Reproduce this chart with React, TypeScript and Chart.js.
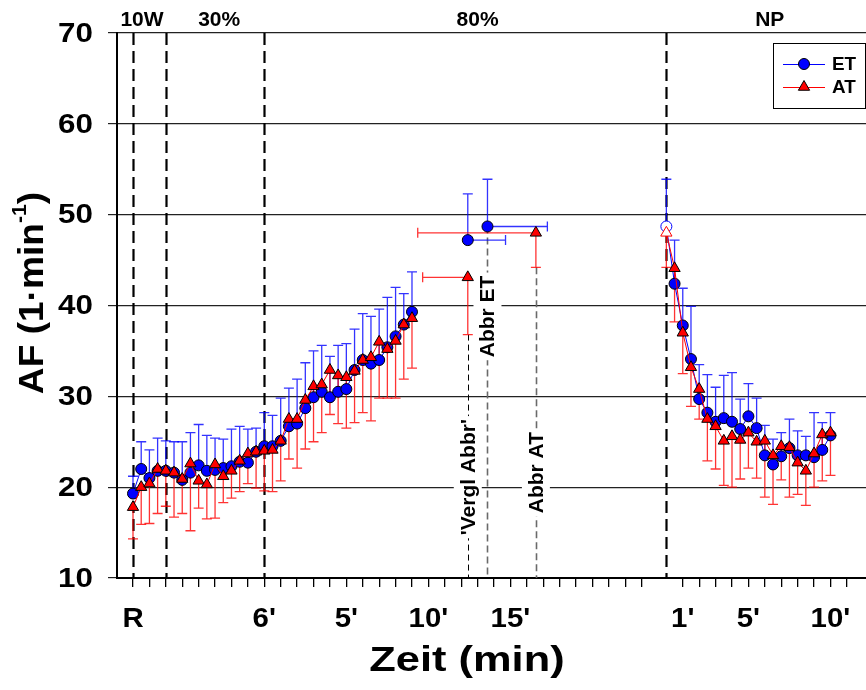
import React, { useEffect, useRef } from 'react';
import { Chart, registerables } from 'chart.js';

Chart.register(...registerables);

const FONT = '"Liberation Sans", Arial, Helvetica, sans-serif';

// ---- Phase 1: rest, 10 W, 30 %, 80 % (one point per 30 s step) ----
const phase1Start = 0;
const etPhase1 = [19.3, 22.0, 21.0, 21.8, 21.8, 21.6, 20.8, 21.6, 22.4, 21.8, 21.9, 22.1, 22.3, 22.8, 22.7, 23.9, 24.5, 24.5, 25.1, 26.7, 27.0, 28.7, 29.9, 30.5, 29.9, 30.5, 30.8, 32.9, 34.0, 33.6, 34.0, 35.4, 36.6, 37.9, 39.3];
const atPhase1 = [17.8, 20.0, 20.4, 22.0, 21.8, 21.6, 20.9, 22.6, 20.7, 20.3, 22.5, 21.2, 21.8, 22.9, 23.7, 23.9, 24.0, 24.1, 25.1, 27.5, 27.5, 29.6, 31.1, 31.3, 32.9, 32.3, 32.1, 32.8, 34.0, 34.3, 36.0, 35.2, 36.1, 37.9, 38.6];
const etPhase1Upper = [21.2, 25.0, 24.1, 25.4, 25.1, 25.0, 25.0, 26.0, 26.9, 25.7, 25.4, 25.3, 26.4, 26.7, 26.4, 26.5, 28.2, 27.9, 29.8, 30.9, 31.9, 33.7, 35.0, 35.6, 34.4, 35.6, 35.8, 37.4, 39.1, 38.8, 39.6, 40.9, 42.0, 41.3, 43.7];
const atPhase1Lower = [14.3, 15.9, 16.0, 17.1, 17.9, 16.7, 17.1, 15.2, 17.7, 16.5, 16.6, 18.3, 18.8, 19.5, 20.4, 19.9, 19.6, 19.5, 20.7, 23.1, 22.1, 24.2, 25.0, 26.0, 28.0, 27.0, 26.5, 27.1, 28.2, 27.3, 29.8, 29.8, 29.8, 31.9, 33.1];

// ---- Abbruch points ----
const abbrEtX = [40.8, 43.2];
const abbrEt = [47.2, 48.7];
const abbrEtUpper = [52.3, 53.9];
const abbrEtXHigh = [45.4, 50.5];
const abbrAtX = [40.8, 49.1];
const abbrAt = [43.1, 48.0];
const abbrAtLower = [36.8, 44.2];
const abbrAtXLow = [35.3, 34.7];

// ---- Nachphase (NP) ----
const npStart = 65;
const etNP = [48.7, 42.4, 37.8, 34.1, 29.7, 28.2, 27.2, 27.6, 27.2, 26.4, 27.8, 26.5, 23.5, 22.5, 23.4, 24.3, 23.5, 23.5, 23.3, 24.1, 25.7];
const atNP = [48.0, 44.1, 37.0, 33.2, 30.8, 27.5, 26.7, 25.1, 25.6, 25.2, 26.0, 25.0, 25.1, 23.5, 24.5, 24.4, 22.7, 21.8, 23.7, 25.8, 26.0];
const etNPUpper = [53.9, 47.2, 41.9, 39.9, 33.5, 32.4, 31.0, 32.3, 32.6, 29.7, 31.4, 29.8, 26.8, 25.3, 26.0, 27.5, 26.2, 25.6, 28.2, 27.1, 28.2];
const atNPLower = [44.2, 38.2, 32.5, 28.9, 27.5, 22.9, 22.0, 20.2, 20.0, 20.9, 22.1, 21.0, 18.9, 18.1, 20.8, 18.9, 19.2, 18.0, 20.0, 20.7, 21.3];

// ---- Axes / annotations ----
const yTicks = [10, 20, 30, 40, 50, 60, 70];
const xTickPos = [0, 2, 4, 6, 8, 10, 12, 14, 16, 18, 20, 22, 24, 26, 28, 30, 32, 34, 36, 38, 40, 42, 44, 46, 48, 50, 52, 54, 56, 58, 60, 62, 67, 69, 71, 73, 75, 77, 79, 81, 83, 85, 87];
const xLabelPos = [0, 16, 26, 36, 46, 67, 75, 85];
const xLabelText = ['R', "6'", "5'", "10'", "15'", "1'", "5'", "10'"];
const phaseLines = [0, 4, 16, 65];
const phaseLabels = ['10W', '30%', '80%', 'NP'];
const phaseLabelX = [1.1, 10.5, 42, 77.6];
const annotLabels = ["'Vergl Abbr'", 'Abbr ET', 'Abbr AT'];
const annotX = [40.8, 43.2, 49.1];
const annotFrom = [36.8, 48.7, 44.2];
const annotTextY = [21.1, 38.8, 21.6];

const BLUE = '#0000ff';
const RED = '#ff0000';

function pts(start: number, vals: number[]) {
  return vals.map((v, i) => ({ x: start + i, y: v }));
}

function stretchText(ctx: any, t: string, x: number, y: number, font: string, sx: number, align: string) {
  ctx.save();
  ctx.translate(x, y);
  ctx.scale(sx, 1);
  ctx.font = font;
  ctx.textAlign = align;
  ctx.textBaseline = 'middle';
  ctx.fillText(t, 0, 0);
  ctx.restore();
}

const overlay = {
  id: 'overlay',
  beforeDatasetsDraw(chart: any) {
    const { ctx, chartArea: ca } = chart;
    const xs = chart.scales.x;
    const ys = chart.scales.y;
    ctx.save();
    ctx.strokeStyle = '#000';
    ctx.lineWidth = 2.2;
    ctx.setLineDash([12, 6]);
    phaseLines.forEach((v) => {
      const px = Math.round(xs.getPixelForValue(v)) + 0.5;
      ctx.beginPath();
      ctx.moveTo(px, ca.top);
      ctx.lineTo(px, ca.bottom);
      ctx.stroke();
    });
    annotX.forEach((v, i) => {
      const px = Math.round(xs.getPixelForValue(v)) + 0.5;
      ctx.strokeStyle = i === 0 ? '#000' : '#6a6a6a';
      ctx.lineWidth = i === 0 ? 1 : 1.6;
      ctx.setLineDash(i === 0 ? [6, 4] : [7, 4]);
      ctx.beginPath();
      ctx.moveTo(px, ys.getPixelForValue(annotFrom[i]));
      ctx.lineTo(px, ca.bottom);
      ctx.stroke();
    });
    ctx.setLineDash([]);
    ctx.font = `bold 21px ${FONT}`;
    annotLabels.forEach((t, i) => {
      const px = xs.getPixelForValue(annotX[i]);
      const py = ys.getPixelForValue(annotTextY[i]);
      ctx.save();
      ctx.translate(px, py);
      ctx.rotate(-Math.PI / 2);
      const w = ctx.measureText(t).width;
      ctx.fillStyle = '#fff';
      ctx.fillRect(-w / 2 - 3, -14, w + 6, 28);
      ctx.fillStyle = '#000';
      ctx.textAlign = 'center';
      ctx.textBaseline = 'middle';
      ctx.fillText(t, 0, 1);
      ctx.restore();
    });
    const cap = 5;
    const vbar = (x: number, y0: number, y1: number, col: string) => {
      const px = xs.getPixelForValue(x);
      const p0 = ys.getPixelForValue(y0);
      const p1 = ys.getPixelForValue(y1);
      ctx.strokeStyle = col;
      ctx.lineWidth = 1.3;
      ctx.beginPath();
      ctx.moveTo(px, p0);
      ctx.lineTo(px, p1);
      ctx.moveTo(px - cap, p1);
      ctx.lineTo(px + cap, p1);
      ctx.stroke();
    };
    const hbar = (x0: number, x1: number, y: number, col: string) => {
      const p0 = xs.getPixelForValue(x0);
      const p1 = xs.getPixelForValue(x1);
      const py = ys.getPixelForValue(y);
      ctx.strokeStyle = col;
      ctx.lineWidth = 1.3;
      ctx.beginPath();
      ctx.moveTo(p0, py);
      ctx.lineTo(p1, py);
      ctx.moveTo(p1, py - cap);
      ctx.lineTo(p1, py + cap);
      ctx.stroke();
    };
    const blueBar = 'rgba(0,0,255,0.8)';
    const redBar = 'rgba(255,0,0,0.8)';
    etPhase1.forEach((v, i) => vbar(phase1Start + i, v, etPhase1Upper[i], blueBar));
    atPhase1.forEach((v, i) => vbar(phase1Start + i, v, atPhase1Lower[i], redBar));
    etNP.forEach((v, i) => vbar(npStart + i, v, etNPUpper[i], blueBar));
    atNP.forEach((v, i) => vbar(npStart + i, v, atNPLower[i], redBar));
    abbrEt.forEach((v, i) => {
      vbar(abbrEtX[i], v, abbrEtUpper[i], blueBar);
      hbar(abbrEtX[i], abbrEtXHigh[i], v, blueBar);
    });
    abbrAt.forEach((v, i) => {
      vbar(abbrAtX[i], v, abbrAtLower[i], redBar);
      hbar(abbrAtX[i], abbrAtXLow[i], v, redBar);
    });
    ctx.restore();
  },
  afterDraw(chart: any) {
    const { ctx } = chart;
    const xs = chart.scales.x;
    const ys = chart.scales.y;
    ctx.save();
    ctx.fillStyle = '#000';
    // tick labels
    yTicks.forEach((v) => {
      stretchText(ctx, String(v), 93, ys.getPixelForValue(v) + 1, `bold 28px ${FONT}`, 1.12, 'right');
    });
    xLabelPos.forEach((v, i) => {
      stretchText(ctx, xLabelText[i], xs.getPixelForValue(v), 619, `bold 28px ${FONT}`, 1.05, 'center');
    });
    // phase labels
    phaseLabels.forEach((t, i) => {
      stretchText(ctx, t, xs.getPixelForValue(phaseLabelX[i]), 20, `bold 21px ${FONT}`, 1.0, 'center');
    });
    // x title
    stretchText(ctx, 'Zeit (min)', 467, 661, `bold 35px ${FONT}`, 1.24, 'center');
    // y title with superscript
    ctx.save();
    ctx.translate(31, 293);
    ctx.rotate(-Math.PI / 2);
    ctx.scale(1.06, 1);
    ctx.textAlign = 'left';
    ctx.textBaseline = 'alphabetic';
    const mainT = 'AF (1·min';
    const supT = '-1';
    const endT = ')';
    ctx.font = `bold 35px ${FONT}`;
    const w1 = ctx.measureText(mainT).width;
    const w3 = ctx.measureText(endT).width;
    ctx.font = `bold 20px ${FONT}`;
    const w2 = ctx.measureText(supT).width;
    const start = -(w1 + w2 + w3) / 2;
    ctx.font = `bold 35px ${FONT}`;
    ctx.fillText(mainT, start, 12);
    ctx.fillText(endT, start + w1 + w2, 12);
    ctx.font = `bold 20px ${FONT}`;
    ctx.fillText(supT, start + w1, -5);
    ctx.restore();
    // legend
    const lx = 773, ly = 43, lw = 92, lh = 65;
    ctx.fillStyle = '#fff';
    ctx.fillRect(lx, ly, lw, lh);
    ctx.strokeStyle = '#000';
    ctx.lineWidth = 1;
    ctx.strokeRect(lx + 0.5, ly + 0.5, lw, lh);
    const rows = [
      { y: 64, col: BLUE, style: 'circle', r: 5.5, t: 'ET' },
      { y: 87, col: RED, style: 'triangle', r: 6.5, t: 'AT' },
    ];
    rows.forEach((r) => {
      ctx.strokeStyle = r.col;
      ctx.lineWidth = 1;
      ctx.beginPath();
      ctx.moveTo(783, r.y + 0.5);
      ctx.lineTo(825, r.y + 0.5);
      ctx.stroke();
      ctx.fillStyle = r.col;
      ctx.strokeStyle = '#000';
      ctx.beginPath();
      if (r.style === 'circle') {
        ctx.arc(804, r.y, r.r, 0, Math.PI * 2);
      } else {
        let rad = 0;
        ctx.moveTo(804 + Math.sin(rad) * r.r, r.y - Math.cos(rad) * r.r);
        rad += (2 * Math.PI) / 3;
        ctx.lineTo(804 + Math.sin(rad) * r.r, r.y - Math.cos(rad) * r.r);
        rad += (2 * Math.PI) / 3;
        ctx.lineTo(804 + Math.sin(rad) * r.r, r.y - Math.cos(rad) * r.r);
        ctx.closePath();
      }
      ctx.fill();
      ctx.stroke();
      ctx.fillStyle = '#000';
      stretchText(ctx, r.t, 832, r.y + 1, `bold 18px ${FONT}`, 1.05, 'left');
    });
    ctx.restore();
  },
};

export default function App() {
  const ref = useRef<HTMLCanvasElement | null>(null);
  useEffect(() => {
    if (!ref.current) return;
    const openFill = (col: string) => (c: any) => (c.dataIndex === 0 ? '#fff' : col);
    const openBorder = (col: string) => (c: any) => (c.dataIndex === 0 ? col : '#000');
    const common = { borderWidth: 1, pointBorderWidth: 1, pointHoverRadius: 5, tension: 0 };
    const chart = new Chart(ref.current, {
      type: 'line',
      data: {
        datasets: [
          { ...common, label: 'ET', order: 1, data: pts(phase1Start, etPhase1), borderColor: BLUE, backgroundColor: BLUE, pointStyle: 'circle', pointRadius: 5.5, pointBackgroundColor: BLUE, pointBorderColor: '#000' },
          { ...common, label: 'AT', order: 0, data: pts(phase1Start, atPhase1), borderColor: RED, backgroundColor: RED, pointStyle: 'triangle', pointRadius: 6.5, pointBackgroundColor: RED, pointBorderColor: '#000' },
          { ...common, label: 'ET NP', order: 1, data: pts(npStart, etNP), borderColor: BLUE, backgroundColor: BLUE, pointStyle: 'circle', pointRadius: 5.5, pointBackgroundColor: openFill(BLUE), pointBorderColor: openBorder(BLUE) },
          { ...common, label: 'AT NP', order: 0, data: pts(npStart, atNP), borderColor: RED, backgroundColor: RED, pointStyle: 'triangle', pointRadius: 6.5, pointBackgroundColor: openFill(RED), pointBorderColor: openBorder(RED) },
          { ...common, label: 'ET Abbr', order: 1, showLine: false, data: abbrEtX.map((x, i) => ({ x, y: abbrEt[i] })), borderColor: BLUE, backgroundColor: BLUE, pointStyle: 'circle', pointRadius: 5.5, pointBackgroundColor: BLUE, pointBorderColor: '#000' },
          { ...common, label: 'AT Abbr', order: 0, showLine: false, data: abbrAtX.map((x, i) => ({ x, y: abbrAt[i] })), borderColor: RED, backgroundColor: RED, pointStyle: 'triangle', pointRadius: 6.5, pointBackgroundColor: RED, pointBorderColor: '#000' },
        ],
      },
      options: {
        animation: false,
        responsive: false,
        maintainAspectRatio: false,
        events: [],
        layout: { autoPadding: false, padding: { top: 33, right: 0, left: 0, bottom: 0 } },
        plugins: { legend: { display: false }, tooltip: { enabled: false } },
        scales: {
          x: {
            type: 'linear',
            min: -1.95,
            max: 89.33,
            afterFit: (s: any) => { s.height = 112; s.paddingLeft = 0; s.paddingRight = 0; },
            afterBuildTicks: (s: any) => { s.ticks = xTickPos.map((v) => ({ value: v })); },
            ticks: { display: false, autoSkip: false, maxRotation: 0 },
            grid: { drawOnChartArea: false, drawTicks: true, tickLength: 9, color: '#000', lineWidth: 1.3 },
            border: { display: true, color: '#000', width: 2 },
          },
          y: {
            type: 'linear',
            min: 10,
            max: 70,
            afterFit: (s: any) => { s.width = 117; s.paddingTop = 0; s.paddingBottom = 0; },
            ticks: { display: false, stepSize: 10 },
            grid: { color: '#222', lineWidth: 1.2, tickLength: 9, drawTicks: true },
            border: { display: true, color: '#000', width: 2 },
          },
        },
      } as any,
      plugins: [overlay],
    });
    return () => chart.destroy();
  }, []);
  return (
    <div style={{ position: 'absolute', left: 0, top: 0, width: 866, height: 690, background: '#fff' }}>
      <canvas ref={ref} width={866} height={690} style={{ display: 'block' }} />
    </div>
  );
}
